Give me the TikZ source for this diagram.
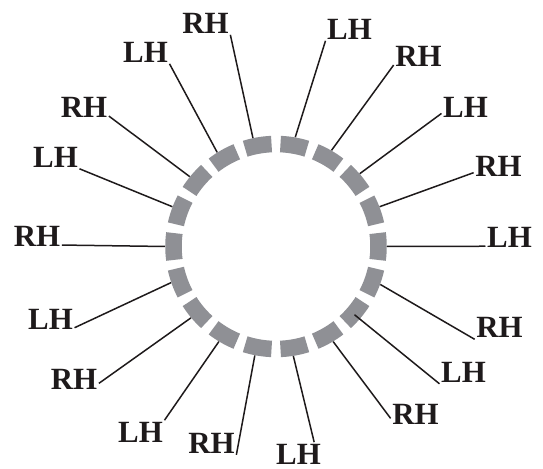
\documentclass[tikz,border=0pt]{standalone}
\usepackage{fontspec}
\setmainfont{Liberation Serif}
\definecolor{ringgrey}{HTML}{8F9095}
\definecolor{leadink}{HTML}{1E1A1B}
\tikzset{
  seg/.style={draw=ringgrey, line width=16.5bp},
  lead/.style={draw=leadink, line width=1.5bp},
  hand/.style={font=\fontsize{31}{31}\selectfont\bfseries, text=leadink, inner sep=1.5bp},
}
\begin{document}
\begin{tikzpicture}[x=1bp,y=1bp]
  \useasboundingbox (0,0) rectangle (543,469);
  \coordinate (hub) at (276,222.5);
  % dashed ring, one segment every 20 degrees
  \foreach \a in {0,20,...,340}
    { \draw[seg] ([shift={({\a-7.5}:102.5)}]hub) arc[start angle=\a-7.5, end angle=\a+7.5, radius=102.5]; }
  % handedness labels
  \foreach \i/\t/\x/\y in {1/RH/205.5/446,2/LH/145.5/417,3/RH/84/362,4/LH/55.5/312,5/RH/37/233,6/LH/50.5/150,
      7/RH/74/90,8/LH/140.5/37,9/RH/211.5/26,10/LH/298.5/15,11/RH/415.5/55,12/LH/463.5/97,
      13/RH/499.5/141.5,14/LH/509.5/231.5,15/RH/498.5/303,16/LH/465.5/362,17/RH/418.5/413,18/LH/349.5/440}
    { \node[hand] (h\i) at (\x,\y) {\t}; }
  % leads from ring to labels
  \foreach \i/\a/\r/\p in {1/102/111/south east,2/122/111/south east,3/141/111/340,4/159/111/south east,
      5/180/111/340,6/199/111/340,7/220/111/350,8/239/111/north east,9/259/111/south east,
      10/279/111/37,11/301/111/190,12/319/104/south west,13/340/111/south west,14/0/111/200,
      15/21/111/195,16/41/111/195,17/60/111/200,18/80/111/south west}
    { \coordinate (r\i) at ([shift={(\a:\r)}]hub); \draw[lead] (r\i) -- (h\i.\p); }
\end{tikzpicture}
\end{document}
